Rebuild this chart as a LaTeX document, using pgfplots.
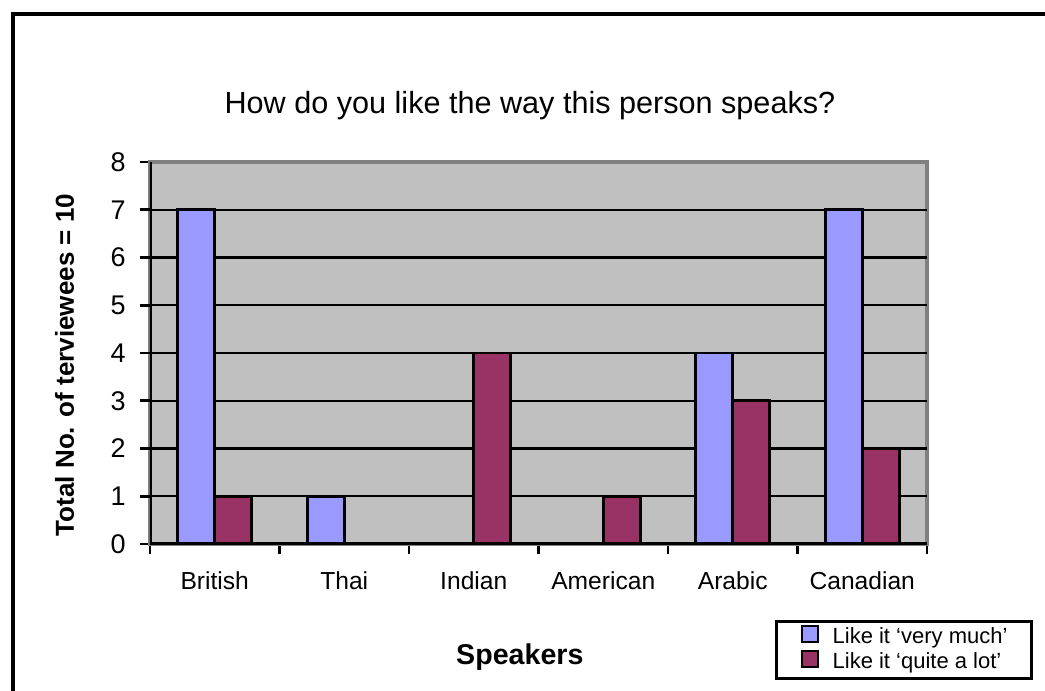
\documentclass[border=0pt]{standalone}
\usepackage{fontspec}
\setmainfont{Liberation Sans}
\usepackage{pgfplots}
\pgfplotsset{compat=1.18}
\definecolor{vblue}{HTML}{9999FF}
\definecolor{vmaroon}{HTML}{993366}
\definecolor{plotgray}{HTML}{C0C0C0}
\definecolor{bordergray}{HTML}{808080}
\pgfplotsset{sqlegend/.style={legend image code/.code={\draw[##1,draw=black,line width=1pt] (0pt,-2pt) rectangle (8pt,6pt);}}}
\begin{document}
\begin{tikzpicture}
\useasboundingbox (0,0) rectangle (522.5pt,345.5pt);
\fill[white] (0,0) rectangle (522.5pt,345.5pt);
\draw[black, line width=1.6pt] (6.5pt,-5pt) -- (6.5pt,338.5pt) -- (530pt,338.5pt);
\begin{axis}[
  at={(75pt,73.5pt)}, anchor=south west,
  scale only axis, width=388.5pt, height=191pt,
  xmin=-0.5, xmax=5.5, ymin=0, ymax=8,
  /pgf/number format/assume math mode=true,
  ytick={0,...,8},
  xtick={-0.5,0.5,...,5.5},
  xticklabels={},
  extra x ticks={0,...,5},
  extra x tick labels={British,Thai,Indian,American,Arabic,Canadian},
  extra x tick style={major tick length=0pt, xticklabel style={font=\fontsize{12.3}{14}\selectfont, anchor=base, yshift=-23pt}},
  extra y ticks={1,...,7},
  extra y tick labels={},
  extra y tick style={grid=major},
  grid style={black, line width=1.2pt},
  tick align=outside, tick pos=left, major tick length=5pt,
  tick style={black, line width=1.4pt},
  yticklabel style={font=\fontsize{13.5}{16}\selectfont, inner sep=0pt, anchor=east, xshift=-7pt},
  axis background/.style={fill=plotgray},
  axis line style={bordergray, line width=2pt},
  ybar=0pt, bar width=18.5pt,
  every axis plot post/.append style={sqlegend},
  title={How do you like the way this person speaks?},
  title style={at={(axis description cs:0.489,1.115)}, anchor=center, font=\fontsize{15.3}{18}\selectfont},
  ylabel={Total No. of terviewees = 10},
  ylabel style={at={(axis description cs:-0.11,0.4686)}, anchor=center, rotate=0, font=\bfseries\fontsize{13}{15}\selectfont},
  xlabel={Speakers},
  xlabel style={at={(axis description cs:0.476,-0.2958)}, anchor=center, font=\bfseries\fontsize{14.3}{17}\selectfont},
  legend style={at={(axis description cs:1.1364,-0.356)}, anchor=south east, draw=black, line width=1.5pt,
    font=\fontsize{11}{13}\selectfont, inner xsep=12pt, inner ysep=2pt, row sep=0.5pt, column sep=7pt,
    nodes={inner sep=0pt, text height=8pt, text depth=3pt}},
  legend cell align=left,
]
\addplot[fill=vblue, draw=black, line width=1.3pt] coordinates {(0,7) (1,1) (4,4) (5,7)};
\addplot[fill=vmaroon, draw=black, line width=1.3pt] coordinates {(0,1) (2,4) (3,1) (4,3) (5,2)};
\legend{Like it ‘very much’, Like it ‘quite a lot’}
\draw[black, line width=1.6pt] (rel axis cs:0,1) -- (rel axis cs:0,0) -- (rel axis cs:1,0);
\end{axis}
\end{tikzpicture}
\end{document}
